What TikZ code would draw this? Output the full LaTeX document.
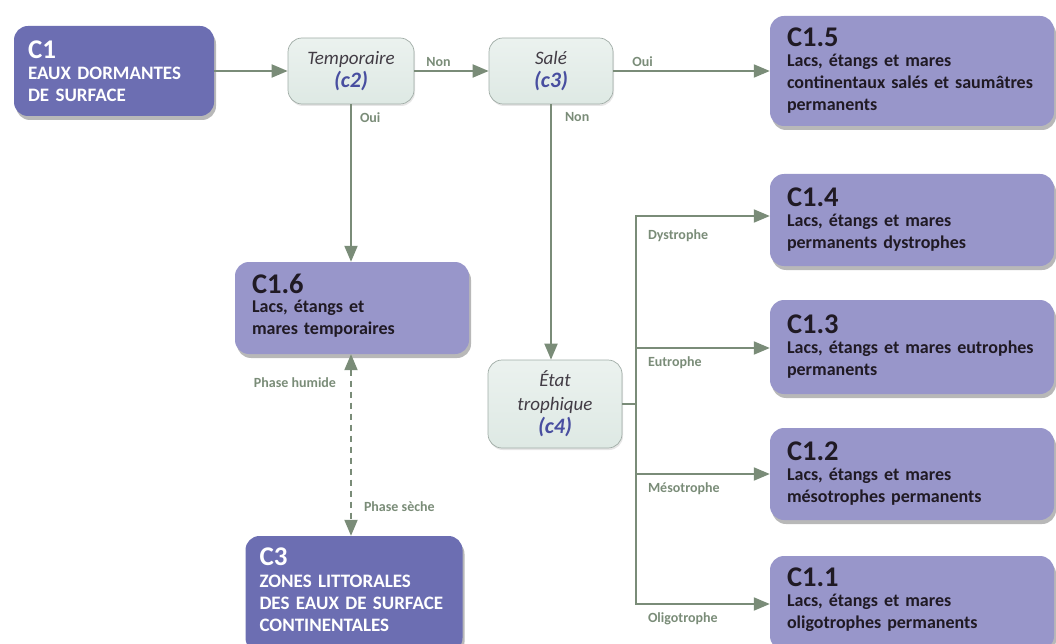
\documentclass[tikz,border=0pt]{standalone}
\usepackage{fontspec}
\setmainfont{Carlito}
\usetikzlibrary{arrows.meta,shadows}

\definecolor{darkbox}{RGB}{108,110,178}
\definecolor{lightbox}{RGB}{152,150,202}
\definecolor{testbox}{RGB}{222,233,228}
\definecolor{testline}{RGB}{160,172,166}
\definecolor{linkgreen}{RGB}{122,140,120}
\definecolor{codeblue}{RGB}{72,78,160}
\definecolor{darktext}{RGB}{32,26,36}

\tikzset{
  unitbox/.style={rounded corners=14pt, align=left, inner ysep=0pt,
    drop shadow={shadow xshift=2pt, shadow yshift=-4pt, opacity=0.35, fill=black!80}},
  darkunit/.style={unitbox, fill=darkbox, text=white, inner xsep=14pt,
    font=\bfseries\fontsize{19}{22}\selectfont},
  lightunit/.style={unitbox, fill=lightbox, text=darktext, inner xsep=17pt,
    font=\bfseries\fontsize{18}{22}\selectfont},
  testnode/.style={rounded corners=14pt, draw=testline, line width=0.7pt,
    top color=testbox!60!white, bottom color=testbox, align=center, inner sep=0pt,
    drop shadow={shadow xshift=1pt, shadow yshift=-2pt, opacity=0.2},
    text=darktext!85, font=\itshape\fontsize{19}{23.5}\selectfont},
  link/.style={draw=linkgreen, line width=2pt, -{Triangle[length=16pt,width=13pt]}},
  linklabel/.style={text=linkgreen, inner sep=2pt, font=\bfseries\fontsize{14}{16}\selectfont},
}
\newcommand{\unittitle}[2]{{\fontsize{#1}{24}\selectfont #2}}
\newcommand{\testcode}[1]{{\bfseries\fontsize{22}{23.5}\selectfont\color{codeblue}#1}}
\newcommand{\textlift}[1]{\rule[-#1]{0pt}{#1}}

\begin{document}
\begin{tikzpicture}[x=1pt,y=-1pt]
  \useasboundingbox (0,0) rectangle (1056,644);
  % Units
  \node[darkunit, text width=172pt, minimum height=90pt] (C1) at (114,71)
    {\unittitle{27}{C1}\\[-1.5pt]EAUX DORMANTES\\DE SURFACE};
  \node[lightunit, text width=250pt, minimum height=110pt] (C15) at (912,71)
    {\unittitle{28.5}{C1.5}\\[-2pt]Lacs, étangs et mares\\continentaux salés et saumâtres\\permanents};
  \node[lightunit, text width=200pt, minimum height=92pt] (C16) at (352,308)
    {\unittitle{28.5}{C1.6}\\[-3pt]Lacs, étangs et\\mares temporaires\textlift{8pt}};
  \node[darkunit, text width=189pt, minimum height=116pt] (C3) at (354,594)
    {\unittitle{27}{C3}\\ZONES LITTORALES\\DES EAUX DE SURFACE\\CONTINENTALES\textlift{8pt}};
  \node[lightunit, text width=250pt, minimum height=92pt] (C14) at (912,220)
    {\unittitle{28.5}{C1.4}\\[-2pt]Lacs, étangs et mares\\permanents dystrophes};
  \node[lightunit, text width=250pt, minimum height=94pt] (C13) at (912,347)
    {\unittitle{28.5}{C1.3}\\[-2pt]Lacs, étangs et mares eutrophes\\permanents};
  \node[lightunit, text width=250pt, minimum height=92pt] (C12) at (912,474)
    {\unittitle{28.5}{C1.2}\\[-2pt]Lacs, étangs et mares\\mésotrophes permanents};
  \node[lightunit, text width=250pt, minimum height=94pt] (C11) at (912,603)
    {\unittitle{28.5}{C1.1}\\[-2pt]Lacs, étangs et mares\\oligotrophes permanents\textlift{10pt}};
  % Tests
  \node[testnode, minimum width=126pt, minimum height=66pt] (c2) at (351,71)
    {Temporaire\\\testcode{(c2)}};
  \node[testnode, minimum width=124pt, minimum height=66pt] (c3) at (551,71)
    {Salé\\\testcode{(c3)}};
  \node[testnode, minimum width=134pt, minimum height=88pt] (c4) at (555,404)
    {État\\trophique\\\testcode{(c4)}};
  % Links
  \draw[link] (C1) -- (c2);
  \draw[link] (c2) -- node[linklabel, at start, anchor=south west, xshift=9pt, yshift=1pt] {Non} (c3);
  \draw[link] (c3) -- node[linklabel, at start, anchor=south west, xshift=16pt, yshift=1pt] {Oui} (C15);
  \draw[link] (c2.south) -- node[linklabel, at start, anchor=north west, xshift=6pt, yshift=-5pt] {Oui} (c2.south |- C16.north);
  \draw[link] (c3.south) -- node[linklabel, at start, anchor=north west, xshift=11pt, yshift=-5pt] {Non} (c3.south |- c4.north);
  \draw[link, dashed, dash pattern=on 6pt off 5pt, {Triangle[length=16pt,width=13pt]}-{Triangle[length=16pt,width=13pt]}]
    (c2.south |- C16.south) -- node[linklabel, at start, anchor=north east, xshift=-12pt, yshift=-20pt] {Phase humide}
    node[linklabel, at end, anchor=south west, xshift=10pt, yshift=21pt] {Phase sèche} (c2.south |- C3.north);
  % Trophic branches
  \coordinate (bus) at (636,404);
  \draw[draw=linkgreen, line width=2pt] (c4) -- (bus);
  \draw[link] (bus) |- node[linklabel, pos=0.5, anchor=north west, xshift=9pt, yshift=-11pt] {Dystrophe} ([yshift=4pt]C14.west);
  \draw[link] (bus) |- node[linklabel, pos=0.5, anchor=north west, xshift=9pt, yshift=-6pt] {Eutrophe} ([yshift=-1pt]C13.west);
  \draw[link] (bus) |- node[linklabel, pos=0.5, anchor=north west, xshift=9pt, yshift=-6pt] {Mésotrophe} (C12.west);
  \draw[link] (bus) |- node[linklabel, pos=0.5, anchor=north west, xshift=9pt, yshift=-6pt] {Oligotrophe} ([yshift=-1pt]C11.west);
\end{tikzpicture}
\end{document}
